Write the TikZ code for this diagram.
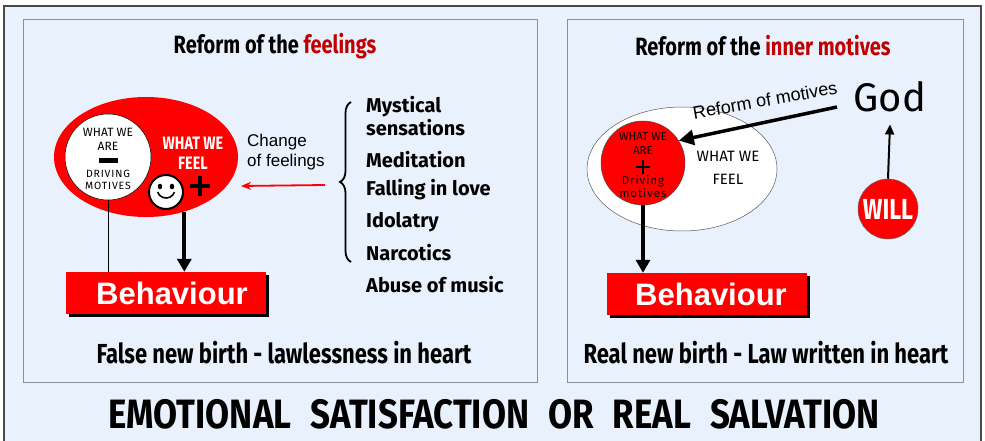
\documentclass[tikz,border=0pt]{standalone}
\usepackage{fontspec}
\setmainfont{Liberation Sans}
\newfontfamily\fira{Fira Sans}
\newfontfamily\firac[FakeStretch=0.8]{Fira Sans}
\newfontfamily\firacc[FakeStretch=0.85]{Fira Sans}
\newfontfamily\firal[LetterSpace=8]{Fira Sans}
\usetikzlibrary{arrows.meta,shapes.geometric,decorations.pathreplacing,shadows,calc}
\definecolor{bg}{HTML}{E9F1FD}
\definecolor{dred}{HTML}{C00000}
\definecolor{framec}{HTML}{4A4A4A}
\definecolor{panelc}{HTML}{8A9099}
\newcommand{\wgap}{\hspace{19pt}}
\tikzset{
  titlet/.style={font=\firac\bfseries\fontsize{25}{29}\selectfont, inner sep=0},
  subt/.style={font=\firac\bfseries\fontsize{27.5}{30}\selectfont, inner sep=0},
  listt/.style={font=\fira\bfseries\fontsize{20}{22}\selectfont, anchor=west, inner sep=0},
  behav/.style={fill=red, minimum width=200, minimum height=42, inner sep=0,
     text=white, font=\bfseries\fontsize{31}{33}\selectfont,
     drop shadow={shadow xshift=3pt, shadow yshift=-3pt, fill=black, opacity=1}},
  thickarrow/.style={line width=4pt, -{Triangle[length=13pt,width=14pt]}},
  small/.style={font=\fira\fontsize{11.5}{13.5}\selectfont, align=center, inner sep=0},
}
\begin{document}
\begin{tikzpicture}[x=1pt,y=-1pt]
\useasboundingbox (0,0) rectangle (985,441);
\fill[white] (0,0) rectangle (985,441);
\draw[framec, line width=1.5pt, fill=bg] (4,6) rectangle (981,470);
\draw[panelc, line width=0.8pt] (23,19) rectangle (537,382);
\draw[panelc, line width=0.8pt] (567,19) rectangle (963,382);

% titles
\node[titlet] (t1) at (275,46) {Reform of the \textcolor{dred}{feelings}};
\node[titlet] (t2) at (763,46) {Reform of the \textcolor{dred}{inner motives}};

% ---- left panel
\node[ellipse, fill=red, minimum width=184, minimum height=120, inner sep=0] (e1) at (146,157) {};
\node[circle, fill=white, draw=black, line width=0.5pt, minimum size=86, inner sep=0] (c1) at (108,157) {};
\node[small, font=\fira\fontsize{12}{14}\selectfont] (c1a) at (108,139) {WHAT WE\\ARE};
\fill (98.5,158) rectangle (117.5,162.5);
\node[small, font=\firal\fontsize{10.5}{12}\selectfont] (c1b) at (108,179.5) {DRIVING\\MOTIVES};
\node[font=\firac\bfseries\fontsize{18}{20}\selectfont, text=white, align=center, inner sep=0] (wf1) at (193,153) {WHAT WE\\FEEL};
% smiley
\node[circle, fill=white, draw=black, line width=2pt, minimum size=34, inner sep=0] (sm) at (166,192) {};
\fill (160,186.5) ellipse (2.2 and 2.8);
\fill (172,186.5) ellipse (2.2 and 2.8);
\draw[line width=1.6pt] (174.5,192.1) arc[start angle=20, end angle=160, radius=9];
\draw[line width=3.5pt] (190,186) -- (210,186) (200,176) -- (200,196);

\node[behav] (b1) at (166,293) {\hspace*{12pt}Behaviour};
\draw[line width=0.8pt] (c1.south) -- (c1.south |- b1.north);
\draw[thickarrow] (e1.-55) -- (e1.-55 |- b1.north);

\node[anchor=west, align=left, inner sep=0, font=\fontsize{17}{20}\selectfont] (cf) at (247,152) {Change\\of feelings};
\coordinate (ra) at (325,185);
\coordinate (rb) at (241,186);
\draw[red, line width=1.8pt, -{Stealth[length=10pt,width=8pt]}] (ra) -- (rb);
\draw[line width=1.8pt, decorate, decoration={brace, amplitude=11pt}] (351,262) -- (351,102);

\node[listt] (l1) at (366,107) {Mystical};
\node[listt] (l2) at (366,128) {sensations};
\node[listt] (l3) at (366,160) {Meditation};
\node[listt] (l4) at (366,190) {Falling in love};
\node[listt] (l5) at (366,222) {Idolatry};
\node[listt] (l6) at (366,253) {Narcotics};
\node[listt] (l7) at (366,285) {Abuse of music};

\node[subt] (s1) at (284,353) {False new birth - lawlessness in heart};

% ---- right panel
\node[ellipse, fill=white, draw=black!65, line width=0.5pt, minimum width=190, minimum height=124, inner sep=0] (e2) at (682,169) {};
\node[circle, fill=red, draw=black!70, line width=0.5pt, minimum size=84, inner sep=0] (c2) at (643,163) {};
\node[small] (c2a) at (643,143.5) {WHAT WE\\ARE};
\draw[line width=2.6pt] (636,167) -- (650,167) (643,160) -- (643,174);
\node[small, font=\firal\fontsize{11.5}{13}\selectfont] (c2b) at (643,186.5) {Driving\\motives};
\node[font=\fira\fontsize{15}{23}\selectfont, align=center, inner sep=0] (wf2) at (728,168) {WHAT WE\\FEEL};

\node[font=\fira\fontsize{40}{44}\selectfont, inner sep=0] (god) at (890,97) {God};
\coordinate (gs) at (837,107);
\draw[line width=3.5pt, -{Triangle[length=15pt,width=15pt]}] (gs) -- (c2.32);
\node[rotate=10, inner sep=0, font=\fontsize{18}{20}\selectfont] (rm) at (765,100) {Reform of motives};

\node[circle, fill=red, draw=black!60, line width=0.5pt, minimum size=60, inner sep=0, text=white, font=\firac\bfseries\fontsize{29}{30}\selectfont] (will) at (888,209) {WILL};
\draw[line width=2pt, -{Triangle[length=10pt,width=9pt]}] (will.north) -- ([yshift=-12pt]god.south);

\node[behav] (b2) at (707,294) {\hspace*{8pt}Behaviour};
\draw[thickarrow] (c2.south) -- (c2.south |- b2.north);

\node[subt] (s2) at (766,353) {Real new birth - Law written in heart};

\node[font=\firacc\bfseries\fontsize{41}{46}\selectfont, inner sep=0] (main) at (494,414) {EMOTIONAL\wgap SATISFACTION\wgap OR\wgap REAL\wgap SALVATION};
\end{tikzpicture}
\end{document}
